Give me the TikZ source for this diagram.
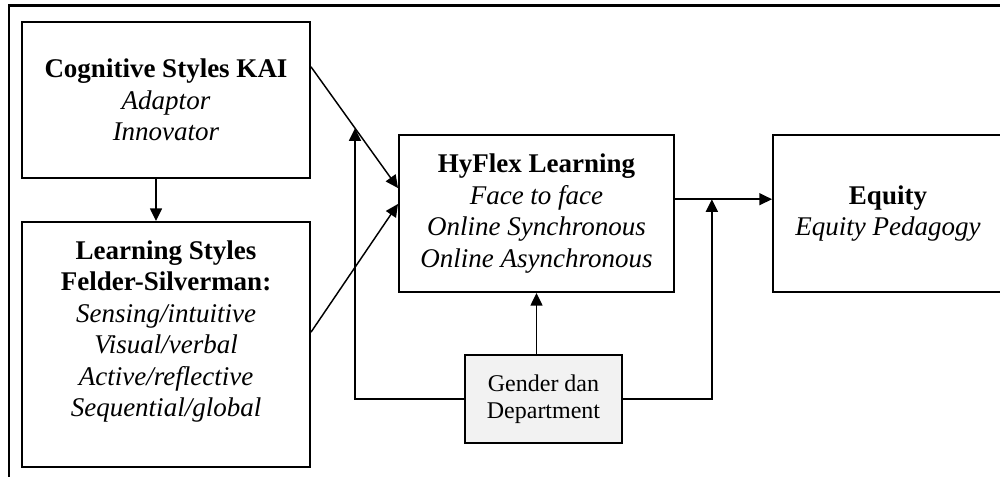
\documentclass[tikz,border=0pt]{standalone}
\usepackage{fontspec}
\setmainfont{Liberation Serif}
\usetikzlibrary{arrows.meta,calc}

\begin{document}
\begin{tikzpicture}[x=0.75pt,y=-0.75pt,
  box/.style={draw, line width=1.5pt, align=center, inner sep=0pt,
    font=\fontsize{20.25}{23.6}\selectfont},
  link/.style={line width=1.1pt, -{Triangle[length=9.5pt,width=9pt]}}]
  \useasboundingbox (0,0) rectangle (1000,476);
  % frame, cut off on the right and at the bottom
  \draw[line width=1.6pt] (9,480) -- (9,5.5) -- (1005,5.5);

  \node[box, minimum width=216pt, minimum height=117pt] (cog) at (166,100)
    {\bfseries Cognitive Styles KAI\\ \itshape Adaptor\\ \itshape Innovator};
  \node[box, minimum width=216pt, minimum height=183.75pt] (learn) at (166,344.5)
    {\bfseries Learning Styles\\ \bfseries Felder-Silverman:\\
     \itshape Sensing/intuitive\\ \itshape Visual/verbal\\
     \itshape Active/reflective\\ \itshape Sequential/global\\ \mbox{}};
  \node[box, minimum width=206.25pt, minimum height=117.75pt] (hy) at (536.5,213.5)
    {\bfseries HyFlex Learning\\ \itshape Face to face\\
     \itshape Online Synchronous\\ \itshape Online Asynchronous};
  \node[box, minimum width=172.5pt, minimum height=117.75pt] (eq) at (888,213.5)
    {\bfseries Equity\\ \itshape Equity Pedagogy};
  \node[box, fill=gray!10, minimum width=117.75pt, minimum height=66pt,
    font=\fontsize{18}{20.25}\selectfont] (gen) at (543.5,399)
    {Gender dan\\ Department};

  \coordinate (cogout) at ($(cog.north east)!0.29!(cog.south east)$);
  \coordinate (hyin) at ($(hy.north west)!0.34!(hy.south west)$);
  \coordinate (cross) at ($(cogout)!0.506!(hyin)$);
  \coordinate (hyout) at ($(hy.north east)!0.41!(hy.south east)$);
  \coordinate (join) at ($(hyout)!0.38!(hyout -| eq.west)$);

  \draw[link] ([xshift=-7.5pt]cog.south) -- ([xshift=-7.5pt]learn.north);
  \draw[link] (cogout) -- (hyin);
  \draw[link] ($(learn.north east)!0.45!(learn.south east)$)
    -- ($(hy.north west)!0.44!(hy.south west)$);
  \draw[link] (hyout) -- (hyout -| eq.west);
  \draw[link] (hy.south |- gen.north) -- (hy.south);
  \draw[link] (gen.west) -| (cross);
  \draw[link] (gen.east) -| (join);
\end{tikzpicture}
\end{document}
